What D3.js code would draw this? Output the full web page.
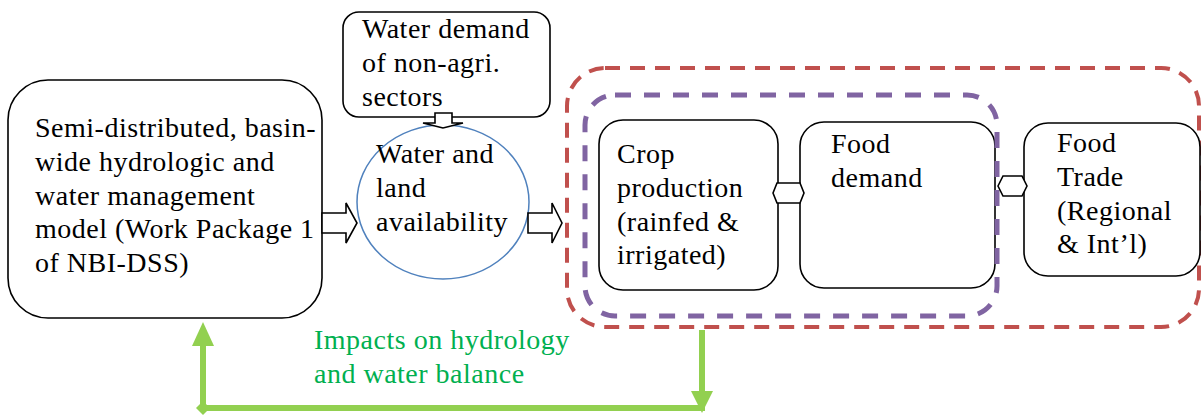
<!DOCTYPE html>
<html>
<head>
<meta charset="utf-8">
<script src="https://cdn.jsdelivr.net/npm/d3@7"></script>
</head>
<body style="margin:0">
<script>
// Labels of the diagram
const modelLines = ["Semi-distributed, basin-", "wide hydrologic and", "water management", "model (Work Package 1", "of NBI-DSS)"];
const demandLines = ["Water demand", "of non-agri.", "sectors"];
const availLines = ["Water and", "land", "availability"];
const cropLines = ["Crop", "production", "(rainfed &", "irrigated)"];
const foodLines = ["Food", "demand"];
const tradeLines = ["Food", "Trade", "(Regional", "& Int\u2019l)"];
const impactLines = ["Impacts on hydrology", "and water balance"];

const width = 1201, height = 418;
const LH = 33.8; // line height

const svg = d3.select("body").append("svg")
  .attr("width", width).attr("height", height);

const defs = svg.append("defs");
defs.append("clipPath").attr("id", "clipDemand")
  .append("rect").attr("x", 343).attr("y", 12).attr("width", 207).attr("height", 94);

function addLines(g, lines, x, y0, color) {
  lines.forEach((t, i) => {
    g.append("text")
      .attr("x", x)
      .attr("y", y0 + i * LH)
      .attr("font-family", "Liberation Serif")
      .attr("font-size", 28)
      .attr("letter-spacing", 0.5)
      .attr("fill", color || "#000")
      .text(t);
  });
}

function box(g, x0, y0, x1, y1, r) {
  return g.append("rect")
    .attr("x", x0).attr("y", y0)
    .attr("width", x1 - x0).attr("height", y1 - y0)
    .attr("rx", r).attr("ry", r)
    .attr("fill", "#fff").attr("stroke", "#000").attr("stroke-width", 1.6);
}

const poly = (pts) => pts.map((p) => p.join(",")).join(" ");

// Red dashed frame (behind everything)
svg.append("rect")
  .attr("x", 567).attr("y", 68).attr("width", 1199 - 567).attr("height", 327 - 68)
  .attr("rx", 38).attr("ry", 38)
  .attr("fill", "none").attr("stroke", "#c0504d").attr("stroke-width", 4)
  .attr("stroke-dasharray", "15,10");

// Boxes
const gBoxes = svg.append("g");
box(gBoxes, 8, 80, 322, 318, 40);
box(gBoxes, 343, 12, 550, 117, 16);
box(gBoxes, 599, 120, 778, 290, 24);
box(gBoxes, 800, 122, 995, 288, 24);
box(gBoxes, 1024, 123, 1200, 276, 24);

// Circle
svg.append("ellipse")
  .attr("cx", 443).attr("cy", 202).attr("rx", 86).attr("ry", 77)
  .attr("fill", "none").attr("stroke", "#4f81bd").attr("stroke-width", 1.5);

// Purple dashed frame
svg.append("rect")
  .attr("x", 585).attr("y", 95).attr("width", 997 - 585).attr("height", 316 - 95)
  .attr("rx", 30).attr("ry", 30)
  .attr("fill", "none").attr("stroke", "#8064a2").attr("stroke-width", 5)
  .attr("stroke-dasharray", "16,13");

// Block arrows
const gArrows = svg.append("g")
  .attr("fill", "#fff").attr("stroke", "#000").attr("stroke-width", 1.6)
  .attr("stroke-linejoin", "miter");

function rightArrow(x0, x1, hb, cy, bh, hh) {
  gArrows.append("polygon").attr("points", poly([
    [x0, cy - bh], [hb, cy - bh], [hb, cy - hh], [x1, cy],
    [hb, cy + hh], [hb, cy + bh], [x0, cy + bh]]));
}
rightArrow(322, 357, 346, 223, 10, 20);
rightArrow(528, 562, 552, 223, 10, 20);

// small down arrow from demand box to circle
gArrows.append("polygon").attr("points", poly([
  [435, 113], [452, 113], [452, 123], [463, 123], [443, 128],
  [423, 123], [435, 123]]));

function doubleArrow(x0, x1, cy, h, tip) {
  gArrows.append("polygon").attr("points", poly([
    [x0 - tip, cy], [x0, cy - h], [x1, cy - h], [x1 + tip, cy],
    [x1, cy + h], [x0, cy + h]]));
}
doubleArrow(777, 800, 193, 10, 4);
doubleArrow(1003, 1022, 186, 10, 5);

// Green feedback arrow
const green = "#92d050";
const gGreen = svg.append("g");
gGreen.append("path")
  .attr("d", d3.line()([[203, 344], [203, 408], [702, 408], [702, 392]]))
  .attr("fill", "none").attr("stroke", green).attr("stroke-width", 6);
gGreen.append("line")
  .attr("x1", 702).attr("y1", 330).attr("x2", 702).attr("y2", 395)
  .attr("stroke", green).attr("stroke-width", 6);
gGreen.append("polygon").attr("fill", green)
  .attr("points", poly([[203, 322], [214, 346], [192, 346]]));
gGreen.append("polygon").attr("fill", green)
  .attr("points", poly([[691, 391], [713, 391], [702, 413]]));
gGreen.append("polygon").attr("fill", green)
  .attr("points", poly([[203, 401], [210, 408], [203, 415], [196, 408]]));

// Texts
const gText = svg.append("g");
addLines(gText, modelLines, 35, 137);
addLines(gText.append("g").attr("clip-path", "url(#clipDemand)"), demandLines, 362, 38);
addLines(gText, availLines, 376, 163);
addLines(gText, cropLines, 617, 163);
addLines(gText, foodLines, 831, 153);
addLines(gText, tradeLines, 1057, 152);
addLines(gText, impactLines, 314, 349, "#00b050");
</script>
</body>
</html>
